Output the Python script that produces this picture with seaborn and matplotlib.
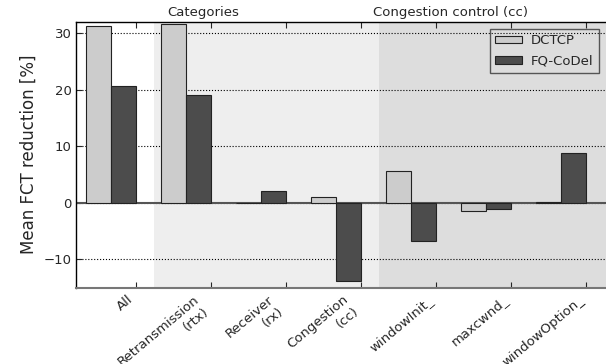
import matplotlib
matplotlib.use("Agg")
import matplotlib.pyplot as plt
import seaborn as sns
import pandas as pd

sns.set_style("ticks")
plt.rcParams['font.family'] = ['DejaVu Sans']

categories = ["All", "Retransmission\n(rtx)", "Receiver\n(rx)", "Congestion\n(cc)",
              "windowInit_", "maxcwnd_", "windowOption_"]
dctcp = [31.3, 31.7, -0.1, 1.0, 5.6, -1.5, 0.1]
fq_codel = [20.7, 19.0, 2.1, -13.9, -6.8, -1.1, 8.75]
series = ["DCTCP", "FQ-CoDel"]
colors = ["#cccccc", "#4c4c4c"]

df = pd.DataFrame({
    "cat": categories * 2,
    "value": dctcp + fq_codel,
    "series": [series[0]] * len(categories) + [series[1]] * len(categories),
})

fig, ax = plt.subplots(figsize=(6.06, 3.64), dpi=100)
fig.subplots_adjust(left=0.125, right=1.0, top=0.94, bottom=0.21)

sns.barplot(data=df, x="cat", y="value", hue="series", order=categories,
            palette=colors, width=2/3, edgecolor="#222222", linewidth=0.8,
            saturation=1, ax=ax, zorder=3)

n = len(categories)
ax.set_xlim(-0.467, n - 1 + 0.6)
ax.set_ylim(-15, 32)

# shaded groups
ax.axvspan(0.573, 3.573, color="#eeeeee", zorder=0, lw=0)
ax.axvspan(3.573, n + 1, color="#dddddd", zorder=0, lw=0)
ax.text(1.23, 1.01, "Categories", transform=ax.get_xaxis_transform(),
        ha="center", va="bottom", fontsize=9.5)
ax.text(4.53, 1.01, "Congestion control (cc)", transform=ax.get_xaxis_transform(),
        ha="center", va="bottom", fontsize=9.5)

ax.set_yticks([-10, 0, 10, 20, 30])
ax.yaxis.grid(True, linestyle=":", color="black", linewidth=0.8, zorder=1)
ax.axhline(0, color="#555555", linewidth=1.5, zorder=2)

ax.set_xticks([i + 1/3 for i in range(n)])
ax.set_xticklabels(categories, rotation=40, ha="right",
                   multialignment="right", fontsize=9.5)
ax.tick_params(axis="both", direction="in", top=True, right=False, length=4)
ax.tick_params(axis="x", pad=4)
ax.tick_params(axis="y", labelsize=9.5, pad=3)

ax.set_xlabel("")
ax.set_ylabel("Mean FCT reduction [%]", fontsize=12)

for s in ["top", "left"]:
    ax.spines[s].set_color("black")
    ax.spines[s].set_linewidth(1.0)
ax.spines["right"].set_visible(False)
ax.spines["bottom"].set_color("#777777")
ax.spines["bottom"].set_linewidth(1.5)

leg = ax.legend(loc="upper right", fontsize=9.5, frameon=True, fancybox=False,
                handlelength=2.0, handleheight=0.5, handletextpad=0.7,
                labelspacing=0.55, borderaxespad=0.55)
leg.get_frame().set_edgecolor("#333333")
leg.get_frame().set_facecolor("none")
leg.get_frame().set_linewidth(1.0)
leg.set_title(None)

fig.savefig("out.png", dpi=100)
